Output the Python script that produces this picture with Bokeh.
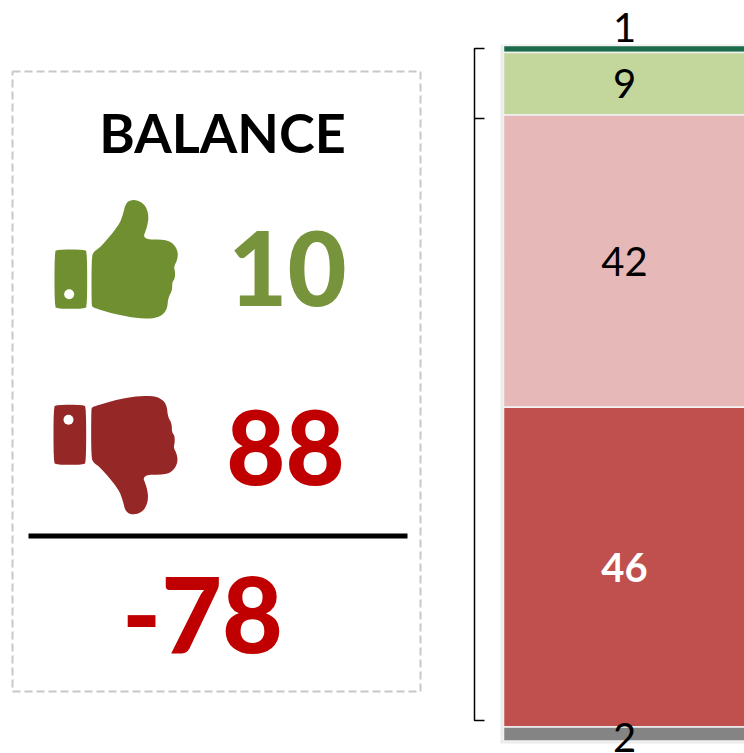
from bokeh.plotting import figure
from bokeh.models import Range1d, ColumnDataSource
from bokeh.core.properties import value
from bokeh.embed import file_html
from bokeh.resources import INLINE

# Data
segments = ["1", "9", "42", "46", "2"]
seg_values = [1, 9, 42, 46, 2]
seg_colors = ["#1B6B4B", "#C3D69B", "#E6B8B7", "#C0504D", "#848484"]
seg_text_colors = ["#000000", "#000000", "#000000", "#FFFFFF", "#000000"]
seg_font_styles = ["normal", "normal", "normal", "bold", "normal"]
seg_label_offsets = [-21, 0, 0, 0, 3]
positive_total = "10"
negative_total = "88"
balance = "-78"
title = "BALANCE"

# Layout
W, H = 744, 753
PX_PER_UNIT = 6.955
BAR_TOP = 45.0
BAR_LEFT, BAR_RIGHT = 503, 750

p = figure(width=W, height=H, output_backend="svg", toolbar_location=None,
           x_axis_type=None, y_axis_type=None, min_border=0,
           x_range=Range1d(0, W),
           y_range=Range1d((H - BAR_TOP) / PX_PER_UNIT, (0 - BAR_TOP) / PX_PER_UNIT))
p.extra_y_ranges = {"px": Range1d(H, 0)}
p.outline_line_color = None
p.grid.visible = False
p.background_fill_color = "#FFFFFF"
p.border_fill_color = "#FFFFFF"

# Dashed box
p.line([12, 420, 420, 12, 12], [71, 71, 691, 691, 71], y_range_name="px",
       line_color="#C8C8C8", line_width=2, line_dash="8 4")

FONT = value("Lato")
BLACK = value("Lato Black")
def label(x, y, s, color, size, font=FONT, style="bold"):
    p.text([x], [y], text=[s], y_range_name="px", text_color=color, text_align="center",
           text_baseline="middle", text_font=font, text_font_size=f"{size}px", text_font_style=style)

label(222, 132, title, "#000000", 54)
label(287, 268, positive_total, "#77933C", 102, BLACK, "normal")
label(285, 447, negative_total, "#C00000", 102, BLACK, "normal")
label(202, 614, balance, "#C00000", 105, BLACK, "normal")

# Rule
p.quad(left=[28], right=[407], top=[533], bottom=[538], y_range_name="px",
       fill_color="#000000", line_color=None)

# Thumb icons (traced in 3x zoom coordinates, smoothed)
palm = [(273,230),(280,213),(300,200),(355,135),(368,100),(375,70),(390,58),(415,60),(435,75),(445,105),
        (440,140),(425,177),(495,177),(520,190),(533,215),(530,240),(520,258),(524,275),(523,295),(515,305),
        (515,330),(503,352),(500,385),(485,405),(455,415),(400,412),(340,400),(290,385),(276,380),(273,372)]

def chaikin(pts, n=2):
    for _ in range(n):
        out = []
        for i, a in enumerate(pts):
            b = pts[(i + 1) % len(pts)]
            out += [(.75*a[0]+.25*b[0], .75*a[1]+.25*b[1]), (.25*a[0]+.75*b[0], .25*a[1]+.75*b[1])]
        pts = out
    return pts

def rect(x0, y0, x1, y1, r=4):
    return chaikin([(x0+r,y0),(x1-r,y0),(x1,y0+r),(x1,y1-r),(x1-r,y1),(x0+r,y1),(x0,y1-r),(x0,y0+r)], 2)

def to_px(pts):
    return [180 + y / 3 for _, y in pts]

smooth = chaikin(palm, 2)
GREEN, BROWN = "#708F31", "#952726"
p.patch([x/3 for x, _ in smooth], to_px(smooth), y_range_name="px", fill_color=GREEN, line_color=None)
cuff = rect(162, 207, 260, 385, 8)
p.patch([x/3 for x, _ in cuff], to_px(cuff), y_range_name="px", fill_color=GREEN, line_color=None)
p.circle([206/3], [180+341/3], radius=5, y_range_name="px", fill_color="#FFFFFF", line_color=None)

down = [(x-1, 1060-y) for x, y in smooth]
p.patch([x/3 for x, _ in down], to_px(down), y_range_name="px", fill_color=BROWN, line_color=None)
cuff2 = rect(159, 673, 257, 853, 8)
p.patch([x/3 for x, _ in cuff2], to_px(cuff2), y_range_name="px", fill_color=BROWN, line_color=None)
p.circle([204/3], [180+718/3], radius=5, y_range_name="px", fill_color="#FFFFFF", line_color=None)

# Brackets
p.line([484, 474, 474, 484], [48, 48, 118, 118], y_range_name="px", line_color="#000000", line_width=1.5)
p.line([474, 474, 484], [118, 720, 720], y_range_name="px", line_color="#000000", line_width=1.5)

# Soft bar shadow
p.quad(left=[500], right=[750], top=[44], bottom=[743], y_range_name="px",
       fill_color="#EBEBEB", line_color=None)

# Stacked bar through the value scale
tops, bottoms, acc = [], [], 0
for v in seg_values:
    tops.append(acc); acc += v; bottoms.append(acc)
src = ColumnDataSource(dict(top=tops, bottom=bottoms, color=seg_colors,
                            left=[BAR_LEFT]*5, right=[BAR_RIGHT]*5))
p.quad(left="left", right="right", top="top", bottom="bottom", source=src,
       fill_color="color", line_color="#F2F2F2", line_width=1.5)

# Segment labels
for s, t, b, c, st, off in zip(segments, tops, bottoms, seg_text_colors, seg_font_styles, seg_label_offsets):
    p.text([624], [(t + b) / 2], text=[s], y_offset=off, text_color=c, text_align="center",
           text_baseline="middle", text_font=FONT, text_font_size="40px", text_font_style=st)

open("out.html", "w").write(file_html(p, INLINE))
